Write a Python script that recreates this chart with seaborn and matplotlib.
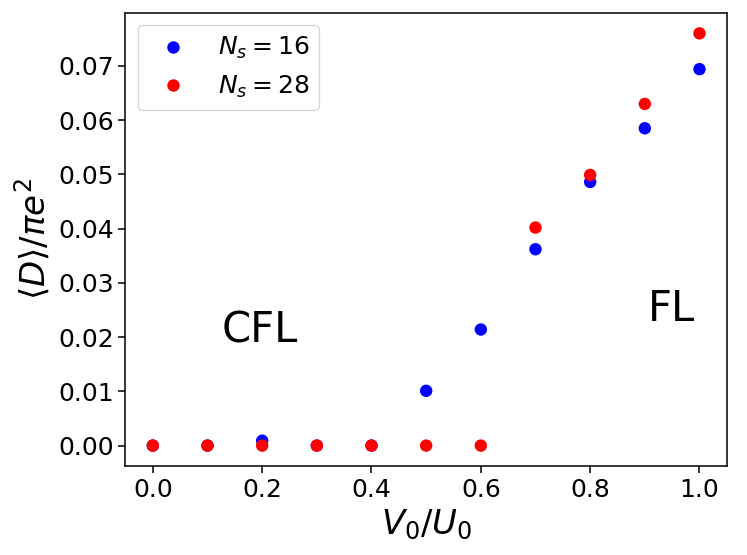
import pandas as pd
import matplotlib
matplotlib.use("Agg")
import matplotlib.pyplot as plt
import seaborn as sns

# Data
v0 = [0.0, 0.1, 0.2, 0.3, 0.4, 0.5, 0.6, 0.7, 0.8, 0.9, 1.0]
d_ns16 = [0.0, 0.0, 0.0009, 0.0, 0.0, 0.0101, 0.0214, 0.0362, 0.0486, 0.0585, 0.0694]
d_ns28 = [0.0, 0.0, 0.0, 0.0, 0.0, 0.0, 0.0, 0.0402, 0.0499, 0.0630, 0.0760]
labels = [r"$N_s=16$", r"$N_s=28$"]

df = pd.concat([
    pd.DataFrame({"V0": v0, "D": d_ns16, "series": labels[0]}),
    pd.DataFrame({"V0": v0, "D": d_ns28, "series": labels[1]}),
], ignore_index=True)

fig, ax = plt.subplots(figsize=(7.47, 5.55), dpi=100)
fig.subplots_adjust(left=0.168, right=0.973, top=0.977, bottom=0.160)

sns.scatterplot(data=df, x="V0", y="D", hue="series",
                palette={labels[0]: "blue", labels[1]: "red"},
                s=80, linewidth=0, ax=ax)

# phase labels
ax.text(0.125, 0.019, "CFL", fontsize=30)
ax.text(0.905, 0.023, "FL", fontsize=30)

ax.set_xlabel(r"$V_0/U_0$", fontsize=24.5)
ax.set_ylabel(r"$\langle D\rangle/\pi e^2$", fontsize=24.5)
ax.tick_params(labelsize=18, length=5, width=1.1)
for sp in ax.spines.values():
    sp.set_linewidth(1.1)
ax.legend(title=None, fontsize=18, loc="upper left")

plt.savefig("out.png", dpi=100)
